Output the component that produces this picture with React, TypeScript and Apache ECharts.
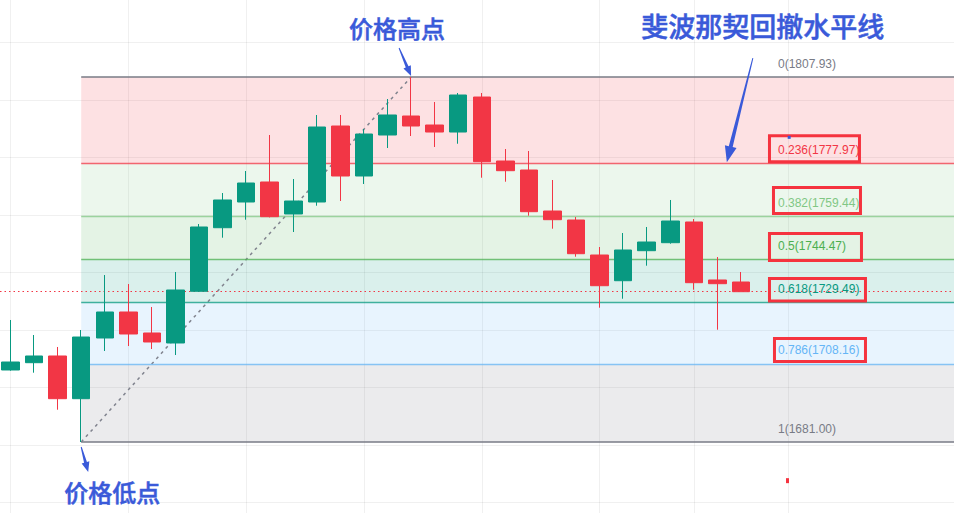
import React, { useEffect, useRef } from 'react';
import * as echarts from 'echarts';

// ---- data ----
const opens = [1706.04, 1708.58, 1710.91, 1696.06, 1717.17, 1726.21, 1718.91, 1715.43, 1733.41, 1755.52, 1764.46, 1771.42, 1760.29, 1764.46, 1790.89, 1773.5, 1787.76, 1794.37, 1791.24, 1788.8, 1800.97, 1778.72, 1775.59, 1761.33, 1758.2, 1746.03, 1737.09, 1747.53, 1750.31, 1757.51, 1737.34, 1736.64];
const closes = [1708.82, 1710.91, 1696.06, 1717.51, 1726.21, 1718.56, 1715.78, 1733.86, 1755.77, 1765.16, 1771.07, 1759.35, 1764.81, 1790.54, 1773.5, 1788.11, 1794.72, 1790.89, 1788.8, 1801.67, 1778.48, 1775.35, 1761.09, 1758.31, 1746.48, 1735.35, 1747.77, 1750.55, 1757.85, 1736.4, 1736.05, 1733.27];
const lows = [1705.8, 1705.1, 1692.23, 1681.0, 1712.65, 1714.38, 1713.34, 1711.25, 1733.2, 1752.05, 1758.31, 1759.1, 1754.03, 1763.17, 1764.81, 1770.72, 1783.24, 1787.41, 1783.59, 1784.73, 1772.91, 1771.52, 1759.7, 1755.18, 1745.44, 1727.7, 1730.83, 1742.31, 1749.96, 1733.96, 1720.05, 1733.27];
const highs = [1723.43, 1718.21, 1714.04, 1719.95, 1739.07, 1735.94, 1727.95, 1740.12, 1756.81, 1767.59, 1775.24, 1787.76, 1772.46, 1794.72, 1794.72, 1789.85, 1800.28, 1807.93, 1799.24, 1802.37, 1802.37, 1782.89, 1782.2, 1772.11, 1759.24, 1748.81, 1753.68, 1755.77, 1765.16, 1758.55, 1745.33, 1740.12];

const fibRatios = [0, 0.236, 0.382, 0.5, 0.618, 0.786, 1];
const fibPrices = [1807.93, 1777.97, 1759.44, 1744.47, 1729.49, 1708.16, 1681.0];
const fibColors = ['#787b86', '#f23645', '#81c784', '#4caf50', '#089981', '#64b5f6', '#787b86'];
const boxedLevels = [1, 2, 3, 4, 5];

const gridPrices = [1660, 1680, 1700, 1720, 1740, 1760, 1780, 1800, 1820];
const gridIndices = [0, 5, 10, 15, 20, 25, 29, 33];

const lowIndex = 3;
const highIndex = 17;
const fibStartIndex = 3;

const titleText = '斐波那契回撤水平线';
const highText = '价格高点';
const lowText = '价格低点';

// ---- layout constants ----
const X_MIN = -0.4456;
const X_MAX = 40.04;
const Y_MIN = 1656.31;
const Y_MAX = 1834.71;
const LABEL_INDEX = 32.57;

const UP = '#089981';
const DOWN = '#f23645';
const BLUE = '#3a5ad9';

function rgba(hex: string, a: number) {
  const n = parseInt(hex.slice(1), 16);
  return `rgba(${(n >> 16) & 255},${(n >> 8) & 255},${n & 255},${a})`;
}

function arrow(sx: number, sy: number, tx: number, ty: number, headLen: number, headW: number, w0: number, w1: number) {
  const dx = tx - sx, dy = ty - sy;
  const len = Math.sqrt(dx * dx + dy * dy);
  const ux = dx / len, uy = dy / len;
  const px = -uy, py = ux;
  const hx = tx - ux * headLen, hy = ty - uy * headLen;
  const pts = [
    [sx + px * w0 / 2, sy + py * w0 / 2],
    [hx + px * w1 / 2, hy + py * w1 / 2],
    [hx + px * headW / 2, hy + py * headW / 2],
    [tx, ty],
    [hx - px * headW / 2, hy - py * headW / 2],
    [hx - px * w1 / 2, hy - py * w1 / 2],
    [sx - px * w0 / 2, sy - py * w0 / 2],
  ];
  return { type: 'polygon', shape: { points: pts }, style: { fill: BLUE }, z: 100 };
}

export default function App() {
  const ref = useRef<HTMLDivElement>(null);
  useEffect(() => {
    document.body.style.margin = '0';
    const chart = echarts.init(ref.current!, undefined, { renderer: 'svg' });

    const candleData = opens.map((o, i) => [i, o, closes[i], lows[i], highs[i]]);

    const gridLines: any[] = [
      ...gridPrices.map((p) => ({ yAxis: p, lineStyle: { color: 'rgba(0,0,0,0.06)', width: 1, type: 'solid' } })),
      ...gridIndices.map((x) => ({ xAxis: x, lineStyle: { color: 'rgba(0,0,0,0.06)', width: 1, type: 'solid' } })),
    ];
    const fibLines: any[] = fibPrices.map((p, i) => [
      { coord: [fibStartIndex, p], lineStyle: { color: fibColors[i], width: i === 0 || i === 6 ? 1.8 : 1.4, type: 'solid', opacity: i === 0 || i === 6 ? 0.75 : 0.75 } },
      { coord: [X_MAX, p] },
    ]);
    const fibAreas: any[] = [];
    for (let i = 1; i < fibPrices.length; i++) {
      fibAreas.push([
        { xAxis: fibStartIndex, yAxis: fibPrices[i - 1], itemStyle: { color: rgba(fibColors[i], 0.15) } },
        { xAxis: X_MAX, yAxis: fibPrices[i] },
      ]);
    }

    chart.setOption({
      animation: false,
      backgroundColor: '#ffffff',
      grid: { left: 0, right: 0, top: 0, bottom: 0 },
      xAxis: {
        type: 'value', min: X_MIN, max: X_MAX,
        axisLine: { show: false }, axisTick: { show: false }, axisLabel: { show: false }, splitLine: { show: false },
      },
      yAxis: {
        type: 'value', min: Y_MIN, max: Y_MAX,
        axisLine: { show: false }, axisTick: { show: false }, axisLabel: { show: false }, splitLine: { show: false },
      },
      series: [
        {
          type: 'line',
          name: 'grid',
          data: [],
          silent: true,
          markLine: {
            z: 0,
            silent: true,
            symbol: ['none', 'none'],
            label: { show: false },
            emphasis: { disabled: true },
            data: gridLines,
          },
        },
        {
          type: 'line',
          name: 'trend',
          z: 3,
          silent: true,
          symbol: 'none',
          data: [[lowIndex, lows[lowIndex]], [highIndex, highs[highIndex]]],
          lineStyle: { color: '#80838e', width: 1.5, type: [3, 4] },
          markArea: {
            z: 1,
            silent: true,
            label: { show: false },
            emphasis: { disabled: true },
            data: fibAreas,
          },
          markLine: {
            z: 4,
            silent: true,
            symbol: ['none', 'none'],
            label: { show: false },
            emphasis: { disabled: true },
            data: fibLines,
          },
        },
        {
          type: 'candlestick',
          name: 'price',
          z: 10,
          barWidth: 18,
          encode: { x: 0, y: [1, 2, 3, 4] },
          data: candleData,
          itemStyle: { color: UP, color0: DOWN, borderColor: UP, borderColor0: DOWN, borderWidth: 1 },
          markLine: {
            z: 5,
            silent: true,
            symbol: ['none', 'none'],
            label: { show: false },
            emphasis: { disabled: true },
            data: [{ yAxis: closes[closes.length - 1], lineStyle: { color: DOWN, width: 1, type: [1.5, 3] } }],
          },
        },
      ],
    });

    const px = (x: number, y: number) => chart.convertToPixel({ gridIndex: 0 }, [x, y]) as number[];
    const g: any[] = [];

    // fib labels
    fibPrices.forEach((p, i) => {
      const [lx, ly] = px(LABEL_INDEX, p);
      g.push({
        type: 'text', x: lx, y: ly - 13.5, z: 50,
        style: {
          text: `${fibRatios[i]}(${p.toFixed(2)})`,
          fill: fibColors[i], fontSize: 12, fontFamily: 'Liberation Sans, Arial, sans-serif',
          align: 'left', verticalAlign: 'middle',
        },
      });
    });

    // red highlight boxes (outer edges relative to label anchor / level line)
    const boxOffsets = [
      [-10, -29, 93, 29],
      [-6, -30.4, 90, 29],
      [-10, -27.5, 95, 30],
      [-10, -25.6, 99, 25.5],
      [-5, -27, 94, 26],
    ];
    boxedLevels.forEach((lvl, k) => {
      const [lx, ly] = px(LABEL_INDEX, fibPrices[lvl]);
      const [ox, oy, w, h] = boxOffsets[k];
      g.push({
        type: 'rect', z: 60,
        shape: { x: lx + ox + 1.5, y: ly + oy + 1.5, width: w - 3, height: h - 3 },
        style: { fill: 'none', stroke: '#f5333f', lineWidth: 3 },
      });
    });

    const cjk = '"Noto Sans CJK SC", sans-serif';
    // annotations
    const [hx, hy] = px(highIndex, highs[highIndex]);
    g.push({
      type: 'text', x: hx - 14, y: hy - 50, z: 100,
      style: { text: highText, fill: BLUE, fontSize: 24, fontWeight: 500, fontFamily: cjk, align: 'center', verticalAlign: 'middle', stroke: BLUE, lineWidth: 0.5 },
    });
    g.push(arrow(hx - 12, hy - 29, hx, hy - 1, 10, 8, 1, 3));

    const [lwx, lwy] = px(lowIndex, lows[lowIndex]);
    g.push({
      type: 'text', x: lwx + 31, y: lwy + 49, z: 100,
      style: { text: lowText, fill: BLUE, fontSize: 24, fontWeight: 500, fontFamily: cjk, align: 'center', verticalAlign: 'middle', stroke: BLUE, lineWidth: 0.5 },
    });
    g.push(arrow(lwx, lwy + 5, lwx + 7, lwy + 30, 10, 8, 1, 3));

    const [fx, fy] = px(30.4, fibPrices[1]);
    g.push({
      type: 'text', x: fx + 36, y: fy - 138, z: 100,
      style: { text: titleText, fill: BLUE, fontSize: 27, fontWeight: 500, fontFamily: cjk, align: 'center', verticalAlign: 'middle', stroke: BLUE, lineWidth: 0.5 },
    });
    g.push(arrow(fx + 26, fy - 105, fx, fy - 1, 16, 12, 1, 4));

    // small marks
    const [bx, by] = px(LABEL_INDEX, fibPrices[1]);
    g.push({ type: 'rect', z: 70, shape: { x: bx + 9.7, y: by - 27.3, width: 3, height: 3 }, style: { fill: '#3a5ad9' } });
    g.push({ type: 'rect', z: 70, shape: { x: bx + 8, y: by + 315, width: 3, height: 5 }, style: { fill: '#f5333f' } });

    chart.setOption({ graphic: g });

    return () => chart.dispose();
  }, []);
  return <div ref={ref} style={{ width: 954, height: 513 }} />;
}
